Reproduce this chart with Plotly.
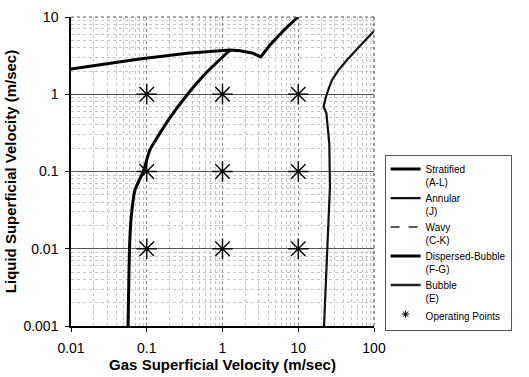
import plotly.graph_objects as go

# ---- data ----
strat_x = [0.0566, 0.0574, 0.0592, 0.0619, 0.070, 0.090, 0.110, 0.150, 0.215, 0.34, 0.624, 1.26]
strat_y = [0.001, 0.00218, 0.01, 0.0237, 0.0578, 0.1, 0.19, 0.316, 0.54, 0.98, 1.94, 3.74]

disp_x = [0.01, 0.08, 0.34, 1.26, 1.70, 2.53, 3.2, 4.2, 6.5, 9.9]
disp_y = [2.12, 2.86, 3.39, 3.74, 3.66, 3.39, 3.05, 4.3, 6.8, 10.0]

ann_x = [21.9, 24.2, 26.2, 25.7, 23.5, 21.6, 23.2, 25.5, 27.9, 34.0, 44.0, 62.0, 97.0, 100.0]
ann_y = [0.001, 0.0093, 0.064, 0.23, 0.57, 0.69, 0.93, 1.22, 1.53, 2.05, 2.78, 4.0, 6.4, 6.6]

op_x = [0.1, 1, 10, 0.1, 1, 10, 0.1, 1, 10]
op_y = [1, 1, 1, 0.1, 0.1, 0.1, 0.01, 0.01, 0.01]

x_ticks = [0.01, 0.1, 1, 10, 100]
x_labels = ["0.01", "0.1", "1", "10", "100"]
y_ticks = [0.001, 0.01, 0.1, 1, 10]
y_labels = ["0.001", "0.01", "0.1", "1", "10"]

FONT = "Liberation Sans, Arial, sans-serif"

# minor grid positions (2..9 within each decade)
minor_x = [m * 10.0 ** e for e in range(-2, 2) for m in range(2, 10)]
minor_y = [m * 10.0 ** e for e in range(-3, 1) for m in range(2, 10)]

fig = go.Figure()

fig.add_trace(go.Scatter(x=strat_x, y=strat_y, mode="lines", name="Stratified<br>(A-L)",
                         line=dict(color="black", width=3, shape="spline", smoothing=0.6)))
fig.add_trace(go.Scatter(x=ann_x, y=ann_y, mode="lines", name="Annular<br>(J)",
                         line=dict(color="#111", width=2.2)))
fig.add_trace(go.Scatter(x=[None], y=[None], mode="lines", name="Wavy<br>(C-K)",
                         line=dict(color="#222", width=1.5, dash="dash")))
fig.add_trace(go.Scatter(x=disp_x, y=disp_y, mode="lines", name="Dispersed-Bubble<br>(F-G)",
                         line=dict(color="black", width=3)))
fig.add_trace(go.Scatter(x=[None], y=[None], mode="lines", name="Bubble<br>(E)",
                         line=dict(color="#222", width=2.5)))
fig.add_trace(go.Scatter(x=[None], y=[None], mode="markers", name="Operating Points",
                         marker=dict(symbol="asterisk-open", size=6, color="black",
                                     line=dict(color="black", width=1))))
fig.add_trace(go.Scatter(x=op_x, y=op_y, mode="markers", showlegend=False,
                         marker=dict(symbol="asterisk-open", size=17, color="black",
                                     line=dict(color="black", width=1.4))))

fig.update_layout(
    width=529, height=377,
    margin=dict(l=71, r=155, t=17, b=51, autoexpand=False),
    paper_bgcolor="white", plot_bgcolor="white",
    font=dict(family=FONT, color="black"),
    showlegend=True,
    legend=dict(x=1.035, y=0.553, xanchor="left", yanchor="top",
                bordercolor="#555", borderwidth=1, bgcolor="white",
                font=dict(family=FONT, size=10, color="black"),
                valign="top", tracegroupgap=0, itemwidth=30),
)

fig.update_xaxes(
    type="log", range=[-2, 2],
    tickvals=x_ticks, ticktext=x_labels,
    tickfont=dict(size=14, family=FONT),
    ticks="outside", ticklen=4, tickcolor="black", ticklabelstandoff=4,
    showline=True, linecolor="black", linewidth=1.5,
    showgrid=True, gridcolor="#888", griddash="dot", gridwidth=1,
    minor=dict(tickmode="array", tickvals=minor_x, showgrid=True,
               gridcolor="#c4c4c4", griddash="dot", gridwidth=1, ticks=""),
    zeroline=False,
    title=dict(text="<b>Gas Superficial Velocity (m/sec)</b>", font=dict(size=15, family=FONT), standoff=5),
)
fig.update_yaxes(
    type="log", range=[-3, 1],
    tickvals=y_ticks, ticktext=y_labels,
    tickfont=dict(size=14, family=FONT),
    ticks="outside", ticklen=4, tickcolor="black", ticklabelstandoff=4,
    showline=True, linecolor="black", linewidth=1.5,
    showgrid=True, gridcolor="#555", gridwidth=1,
    minor=dict(tickmode="array", tickvals=minor_y, showgrid=True,
               gridcolor="#c4c4c4", griddash="dot", gridwidth=1, ticks=""),
    zeroline=False,
    title=dict(text="<b>Liquid Superficial Velocity (m/sec)</b>", font=dict(size=15, family=FONT), standoff=3),
)

# dotted top and right frame
fig.add_shape(type="line", xref="paper", yref="paper", x0=0, x1=1, y0=1, y1=1,
              line=dict(color="#555", width=1.2, dash="dot"))
fig.add_shape(type="line", xref="paper", yref="paper", x0=1, x1=1, y0=0, y1=1,
              line=dict(color="#555", width=1.2, dash="dot"))

fig.write_html("out.html",
               config={"displayModeBar": False},
               post_script="document.body.style.margin='0';document.body.style.overflow='hidden';")
